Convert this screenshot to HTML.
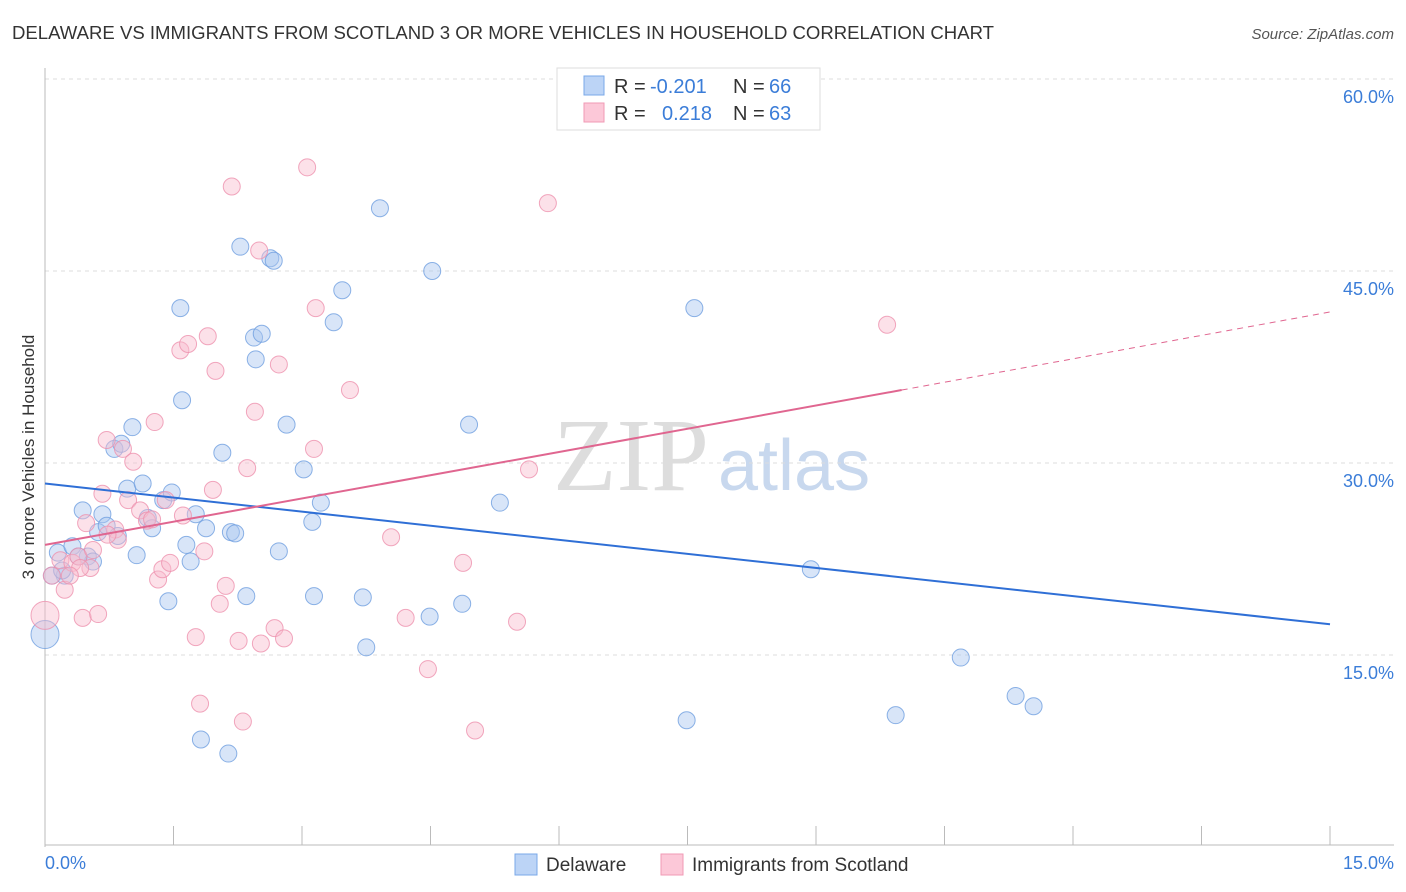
<!DOCTYPE html>
<html><head><meta charset="utf-8">
<style>
body{margin:0;background:#fff;font-family:"Liberation Sans",sans-serif;}
svg{display:block}
</style></head>
<body>
<svg id="chart" width="1406" height="892" xmlns="http://www.w3.org/2000/svg">
<text x="12" y="39" font-size="18" fill="#333" textLength="982" lengthAdjust="spacingAndGlyphs">DELAWARE VS IMMIGRANTS FROM SCOTLAND 3 OR MORE VEHICLES IN HOUSEHOLD CORRELATION CHART</text>
<text x="1394" y="39" font-size="15" fill="#555" font-style="italic" text-anchor="end">Source: ZipAtlas.com</text>
<text x="553" y="490" font-size="104" fill="#ddd" font-family="Liberation Serif,serif">ZIP</text>
<text x="718" y="490" font-size="72" fill="#c8d8ee">atlas</text>
<g id="grid"></g>
<g id="marks"></g>
<text transform="translate(34,457) rotate(-90)" font-size="17" fill="#333" text-anchor="middle">3 or more Vehicles in Household</text>
<text x="45" y="869" font-size="18" fill="#3b7dd8">0.0%</text>
<text x="1394" y="869" font-size="18" fill="#3b7dd8" text-anchor="end">15.0%</text>
<g>
<rect x="557" y="68" width="263" height="62" fill="#fff" stroke="#ddd"/>
<rect x="584" y="76" width="20" height="19" fill="#bcd4f6" stroke="#7aa8e8"/>
<rect x="584" y="103" width="20" height="19" fill="#fcc8d8" stroke="#f09ab5"/>
<text y="93" font-size="20" fill="#333"><tspan x="614">R = </tspan><tspan x="650" fill="#3b7dd8">-0.201</tspan><tspan x="733">N = </tspan><tspan x="769" fill="#3b7dd8">66</tspan></text>
<text y="120" font-size="20" fill="#333"><tspan x="614">R = </tspan><tspan x="662" fill="#3b7dd8">0.218</tspan><tspan x="733">N = </tspan><tspan x="769" fill="#3b7dd8">63</tspan></text>
</g>
<g>
<rect x="515" y="854" width="22" height="21" fill="#bcd4f6" stroke="#7aa8e8"/>
<text x="546" y="871" font-size="19" fill="#333">Delaware</text>
<rect x="661" y="854" width="22" height="21" fill="#fcc8d8" stroke="#f09ab5"/>
<text x="692" y="871" font-size="19" fill="#333">Immigrants from Scotland</text>
</g>
</svg>
<script>
const yTicks=[15,30,45,60];
const yTickLabels=["15.0%","30.0%","45.0%","60.0%"];
const xTicks=[0,1.5,3,4.5,6,7.5,9,10.5,12,13.5,15];
const blueX=[0,0.15,0.23,0.32,0.44,0.5,0.56,0.62,0.67,0.72,0.81,0.85,0.89,0.96,1.02,1.07,1.14,1.2,1.25,1.38,1.44,1.48,1.58,1.6,1.65,1.7,1.76,1.82,1.88,2.07,2.14,2.17,2.22,2.28,2.35,2.44,2.46,2.53,2.63,2.67,2.73,2.82,3.02,3.12,3.14,3.22,3.37,3.47,3.71,3.75,3.91,4.49,4.52,4.87,4.95,5.31,7.49,7.58,8.94,9.93,10.69,11.33,11.54,0.08,0.39,0.2];
const blueY=[16.6,23.0,21.2,23.5,26.3,22.7,22.3,24.6,26.0,25.1,31.1,24.3,31.5,28.0,32.8,22.8,28.4,25.7,24.9,27.1,19.2,27.7,42.1,34.9,23.6,22.3,26.0,8.4,24.9,30.8,7.3,24.6,24.5,46.9,19.6,39.8,38.1,40.1,46.0,45.8,23.1,33.0,29.5,25.4,19.6,26.9,41.0,43.5,19.5,15.6,49.9,18.0,45.0,19.0,33.0,26.9,9.9,42.1,21.7,10.3,14.8,11.8,11.0,21.2,22.7,21.6];
const pinkX=[0,0.08,0.18,0.23,0.32,0.39,0.44,0.48,0.53,0.56,0.62,0.67,0.72,0.82,0.85,0.91,0.97,1.03,1.11,1.19,1.25,1.28,1.32,1.37,1.41,1.46,1.58,1.61,1.67,1.76,1.81,1.86,1.9,1.96,1.99,2.04,2.11,2.18,2.26,2.31,2.36,2.45,2.5,2.52,2.68,2.73,2.79,3.06,3.14,3.16,3.56,4.04,4.21,4.47,4.88,5.02,5.51,5.65,5.87,9.83,0.73,0.41,0.29];
const pinkY=[18.1,21.2,22.4,20.1,22.2,22.7,17.9,25.3,21.8,23.2,18.2,27.6,31.8,24.8,24.0,31.1,27.1,30.1,26.3,25.5,25.6,33.2,20.9,21.7,27.1,22.2,38.8,25.9,39.3,16.4,11.2,23.1,39.9,27.9,37.2,19.0,20.4,51.6,16.1,9.8,29.6,34.0,46.6,15.9,17.1,37.7,16.3,53.1,31.1,42.1,35.7,24.2,17.9,13.9,22.2,9.1,17.6,29.5,50.3,40.8,24.4,21.8,21.2];
const blueTrend=[28.4,17.4];
const pinkTrend=[23.6,35.7,41.8];
const NS="http://www.w3.org/2000/svg";
const X0=45,X1=1330,Y0=847,PPY=12.8;
const xs=v=>X0+v*(X1-X0)/15;
const ys=v=>Y0-v*PPY;
const grid=document.getElementById('grid'),marks=document.getElementById('marks');
function mk(tag,attrs,parent){const e=document.createElementNS(NS,tag);for(const k in attrs)e.setAttribute(k,attrs[k]);parent.appendChild(e);return e;}
yTicks.forEach((t,i)=>{
 const l=mk('line',{x1:X0,x2:1394,y1:ys(t),y2:ys(t),stroke:'#ddd','stroke-dasharray':'4,4'},grid);
 
 
 const tx=mk('text',{x:1394,y:ys(t)+24,'font-size':18,fill:'#3b7dd8','text-anchor':'end'},grid);
 tx.textContent=yTickLabels[i];
 
 
});
const ax=mk('line',{x1:X0,x2:X0,y1:68,y2:847,stroke:'#bbb'},grid);


const bx=mk('line',{x1:X0,x2:1394,y1:845,y2:845,stroke:'#bbb'},grid);


xTicks.forEach(t=>{
 const l=mk('line',{x1:xs(t),x2:xs(t),y1:826,y2:845,stroke:'#bbb'},grid);
 
 
});
function dots(X,Y,fill,stroke,name){
 X.forEach((x,i)=>{
  const r=(x===0)?14:8.5;
  const c=mk('circle',{cx:xs(x),cy:ys(Y[i]),r:r,fill:fill,'fill-opacity':0.45,stroke:stroke,'stroke-opacity':0.8,'stroke-width':1},marks);
  
  
 });
}
dots(blueX,blueY,'#a9c6f0','#6f9fe0','delaware-point');
dots(pinkX,pinkY,'#f9bccf','#ee91ae','scotland-point');
const bl=mk('line',{x1:xs(0),y1:ys(blueTrend[0]),x2:xs(15),y2:ys(blueTrend[1]),stroke:'#2f6fd6','stroke-width':2},marks);


const pl=mk('line',{x1:xs(0),y1:ys(pinkTrend[0]),x2:xs(10),y2:ys(pinkTrend[1]),stroke:'#e06690','stroke-width':2},marks);


const pd=mk('line',{x1:xs(10),y1:ys(pinkTrend[1]),x2:xs(15),y2:ys(pinkTrend[2]),stroke:'#e06690','stroke-width':1,'stroke-dasharray':'6,5'},marks);


</script>
</body></html>
